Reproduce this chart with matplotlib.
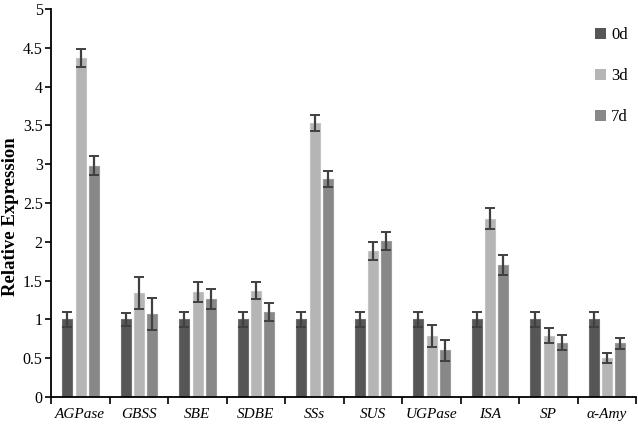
import numpy as np
import matplotlib.pyplot as plt

plt.rcParams['font.family'] = ['Liberation Serif', 'DejaVu Serif']

genes = ['AGPase', 'GBSS', 'SBE', 'SDBE', 'SSs', 'SUS', 'UGPase', 'ISA', 'SP', 'α-Amy']
series = ['0d', '3d', '7d']

d0 = [1.0, 1.0, 1.0, 1.0, 1.0, 1.0, 1.0, 1.0, 1.0, 1.0]
d3 = [4.37, 1.34, 1.35, 1.37, 3.53, 1.88, 0.79, 2.30, 0.79, 0.50]
d7 = [2.98, 1.07, 1.26, 1.10, 2.81, 2.01, 0.60, 1.70, 0.70, 0.69]

e0 = [0.10, 0.08, 0.10, 0.10, 0.10, 0.10, 0.10, 0.10, 0.10, 0.10]
e3 = [0.12, 0.21, 0.13, 0.11, 0.105, 0.12, 0.14, 0.13, 0.10, 0.065]
e7 = [0.12, 0.21, 0.13, 0.115, 0.10, 0.12, 0.14, 0.13, 0.10, 0.065]

colors = ['#565656', '#b5b5b5', '#888888']
edges = ['#6e6e6e', '#c4c4c4', '#9a9a9a']

fig = plt.figure(figsize=(6.38, 4.24), dpi=100)
ax = fig.add_axes([51 / 638, 27 / 424, 585 / 638, 388 / 424])

x = np.arange(len(genes))
offsets = [-0.22, 0.005, 0.23]
handles = []
for vals, errs, c, ec, off, lab in zip([d0, d3, d7], [e0, e3, e7], colors, edges, offsets, series):
    b = ax.bar(x + 0.5 + off, vals, width=0.17, color=c, edgecolor=ec, linewidth=0.8,
               yerr=errs, capsize=3.5,
               error_kw=dict(ecolor='#404040', elinewidth=1.6, capthick=1.4), label=lab)
    handles.append(b)

ax.set_xlim(0, len(genes))
ax.set_ylim(0, 5)
ax.set_yticks(np.arange(0, 5.01, 0.5))
ax.set_yticklabels(['0', '0.5', '1', '1.5', '2', '2.5', '3', '3.5', '4', '4.5', '5'])
ax.set_xticks(np.arange(0, len(genes) + 1))
ax.set_xticklabels([])
ax.set_xticks(x + 0.5, minor=True)
ax.set_xticklabels(genes, minor=True, fontstyle='italic', fontsize=11)
ax.tick_params(axis='x', which='minor', length=0, pad=8)
ax.tick_params(axis='x', which='major', length=5, width=1.2, direction='out')
ax.tick_params(axis='y', length=4, width=1.2, direction='out', labelsize=11.5, pad=2)

for s in ['top', 'right']:
    ax.spines[s].set_visible(False)
for s in ['left', 'bottom']:
    ax.spines[s].set_linewidth(1.3)

ax.set_ylabel('Relative Expression', fontsize=13.5, fontweight='bold')
ax.yaxis.set_label_coords(-0.055, 0.464)

leg = ax.legend(handles=handles, labels=series, loc='upper left',
                bbox_to_anchor=(0.918, 0.97), frameon=False, fontsize=12,
                handlelength=0.7, handleheight=0.7, handletextpad=0.3,
                labelspacing=1.5, borderaxespad=0)
for h in leg.legend_handles:
    h.set_linewidth(0)

fig.savefig('out.png', dpi=100)
